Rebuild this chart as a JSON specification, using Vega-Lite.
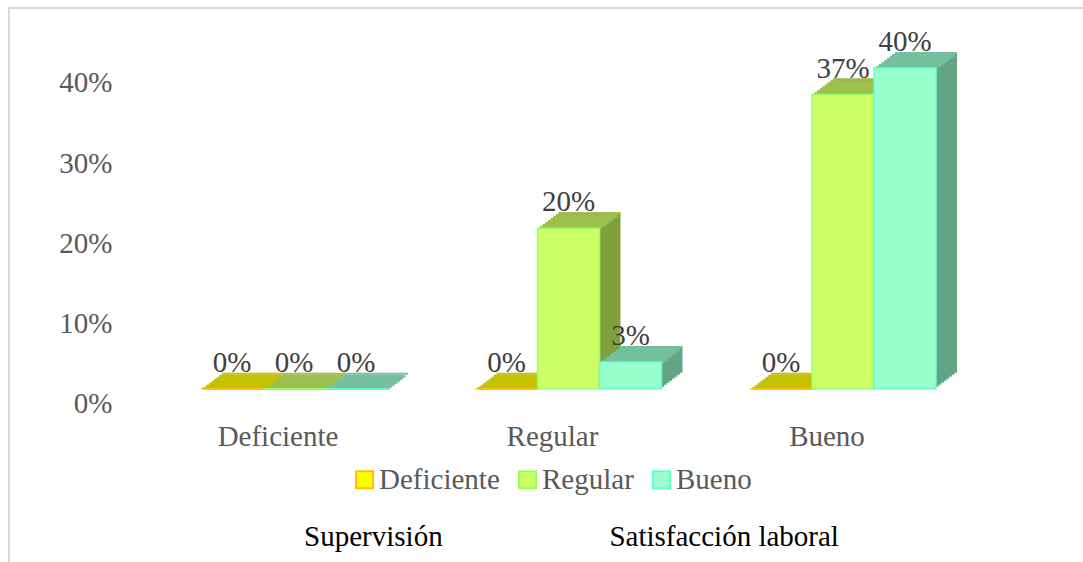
{
  "$schema": "https://vega.github.io/schema/vega-lite/v6.json",
  "width": 1078,
  "height": 558,
  "autosize": {"type": "none"},
  "padding": {"left": 9, "top": 8, "right": -4, "bottom": -4},
  "background": "white",
  "config": {
    "font": "Liberation Serif",
    "view": {"stroke": "#d9d9d9", "strokeWidth": 2}
  },
  "data": {
    "values": [
      {"group": "Deficiente", "series": "Deficiente", "value": 0},
      {"group": "Deficiente", "series": "Regular", "value": 0},
      {"group": "Deficiente", "series": "Bueno", "value": 0},
      {"group": "Regular", "series": "Deficiente", "value": 0},
      {"group": "Regular", "series": "Regular", "value": 0.2},
      {"group": "Regular", "series": "Bueno", "value": 0.0333},
      {"group": "Bueno", "series": "Deficiente", "value": 0},
      {"group": "Bueno", "series": "Regular", "value": 0.3667},
      {"group": "Bueno", "series": "Bueno", "value": 0.4}
    ]
  },
  "encoding": {
    "x": {
      "field": "group",
      "type": "nominal",
      "scale": {"type": "band", "domain": ["Deficiente", "Regular", "Bueno"], "range": [147.75, 971.25], "paddingInner": 0.3224, "paddingOuter": 0.1612},
      "axis": {
        "orient": "bottom",
        "offset": -130,
        "domain": false,
        "ticks": false,
        "tickSize": 0,
        "grid": false,
        "labelPadding": 0,
        "labelOffset": -16,
        "labelAngle": 0,
        "labelBaseline": "middle",
        "labelFontSize": 29,
        "labelColor": "#595959",
        "title": "Supervisión\u00a0\u00a0\u00a0\u00a0\u00a0\u00a0\u00a0\u00a0\u00a0\u00a0\u00a0\u00a0\u00a0\u00a0\u00a0\u00a0\u00a0\u00a0\u00a0\u00a0\u00a0\u00a0\u00a0Satisfacción laboral",
        "titleFontSize": 29,
        "titleFontWeight": "normal",
        "titleColor": "#000000",
        "titleX": 562,
        "titleY": 100,
        "titleBaseline": "middle",
        "titleAlign": "center"
      }
    },
    "y": {
      "field": "value",
      "type": "quantitative",
      "scale": {"domain": [-0.22107, 0.47469], "nice": false, "zero": false},
      "axis": {
        "orient": "left",
        "offset": -103,
        "values": [0, 0.1, 0.2, 0.3, 0.4],
        "format": ".0%",
        "domain": false,
        "ticks": false,
        "tickSize": 0,
        "grid": false,
        "labelPadding": 0,
        "labelOffset": 15,
        "labelFontSize": 29,
        "labelColor": "#595959",
        "title": null
      }
    }
  },
  "layer": [
    {"mark": {"type": "bar", "yOffset": -2, "y2Offset": -2}, "encoding": {"xOffset": {"field": "series", "type": "nominal", "scale": {"domain": ["Deficiente", "Regular", "Bueno"], "range": [2.625, 188.625]}}, "y2": {"datum": 0}, "fill": {"field": "series", "type": "nominal", "scale": {"domain": ["Deficiente", "Regular", "Bueno"], "range": ["#A3A300", "#80A03C", "#62A483"]}, "legend": null}}},
    {"mark": {"type": "bar", "yOffset": -4, "y2Offset": -4}, "encoding": {"xOffset": {"field": "series", "type": "nominal", "scale": {"domain": ["Deficiente", "Regular", "Bueno"], "range": [5.25, 191.25]}}, "y2": {"datum": 0}, "fill": {"field": "series", "type": "nominal", "scale": {"domain": ["Deficiente", "Regular", "Bueno"], "range": ["#A3A300", "#80A03C", "#62A483"]}, "legend": null}}},
    {"mark": {"type": "bar", "yOffset": -6, "y2Offset": -6}, "encoding": {"xOffset": {"field": "series", "type": "nominal", "scale": {"domain": ["Deficiente", "Regular", "Bueno"], "range": [7.875, 193.875]}}, "y2": {"datum": 0}, "fill": {"field": "series", "type": "nominal", "scale": {"domain": ["Deficiente", "Regular", "Bueno"], "range": ["#A3A300", "#80A03C", "#62A483"]}, "legend": null}}},
    {"mark": {"type": "bar", "yOffset": -8, "y2Offset": -8}, "encoding": {"xOffset": {"field": "series", "type": "nominal", "scale": {"domain": ["Deficiente", "Regular", "Bueno"], "range": [10.5, 196.5]}}, "y2": {"datum": 0}, "fill": {"field": "series", "type": "nominal", "scale": {"domain": ["Deficiente", "Regular", "Bueno"], "range": ["#A3A300", "#80A03C", "#62A483"]}, "legend": null}}},
    {"mark": {"type": "bar", "yOffset": -10, "y2Offset": -10}, "encoding": {"xOffset": {"field": "series", "type": "nominal", "scale": {"domain": ["Deficiente", "Regular", "Bueno"], "range": [13.125, 199.125]}}, "y2": {"datum": 0}, "fill": {"field": "series", "type": "nominal", "scale": {"domain": ["Deficiente", "Regular", "Bueno"], "range": ["#A3A300", "#80A03C", "#62A483"]}, "legend": null}}},
    {"mark": {"type": "bar", "yOffset": -12, "y2Offset": -12}, "encoding": {"xOffset": {"field": "series", "type": "nominal", "scale": {"domain": ["Deficiente", "Regular", "Bueno"], "range": [15.75, 201.75]}}, "y2": {"datum": 0}, "fill": {"field": "series", "type": "nominal", "scale": {"domain": ["Deficiente", "Regular", "Bueno"], "range": ["#A3A300", "#80A03C", "#62A483"]}, "legend": null}}},
    {"mark": {"type": "bar", "yOffset": -14, "y2Offset": -14}, "encoding": {"xOffset": {"field": "series", "type": "nominal", "scale": {"domain": ["Deficiente", "Regular", "Bueno"], "range": [18.375, 204.375]}}, "y2": {"datum": 0}, "fill": {"field": "series", "type": "nominal", "scale": {"domain": ["Deficiente", "Regular", "Bueno"], "range": ["#A3A300", "#80A03C", "#62A483"]}, "legend": null}}},
    {"mark": {"type": "bar", "yOffset": -16, "y2Offset": -16}, "encoding": {"xOffset": {"field": "series", "type": "nominal", "scale": {"domain": ["Deficiente", "Regular", "Bueno"], "range": [21, 207]}}, "y2": {"datum": 0}, "fill": {"field": "series", "type": "nominal", "scale": {"domain": ["Deficiente", "Regular", "Bueno"], "range": ["#A3A300", "#80A03C", "#62A483"]}, "legend": null}}},
    {"mark": {"type": "bar", "yOffset": -2, "y2Offset": 1}, "encoding": {"xOffset": {"field": "series", "type": "nominal", "scale": {"domain": ["Deficiente", "Regular", "Bueno"], "range": [2.625, 188.625]}}, "y2": {"field": "value"}, "fill": {"field": "series", "type": "nominal", "scale": {"domain": ["Deficiente", "Regular", "Bueno"], "range": ["#C4C100", "#9CBF4E", "#74C09C"]}, "legend": null}}},
    {"mark": {"type": "bar", "yOffset": -4, "y2Offset": -1}, "encoding": {"xOffset": {"field": "series", "type": "nominal", "scale": {"domain": ["Deficiente", "Regular", "Bueno"], "range": [5.25, 191.25]}}, "y2": {"field": "value"}, "fill": {"field": "series", "type": "nominal", "scale": {"domain": ["Deficiente", "Regular", "Bueno"], "range": ["#C4C100", "#9CBF4E", "#74C09C"]}, "legend": null}}},
    {"mark": {"type": "bar", "yOffset": -6, "y2Offset": -3}, "encoding": {"xOffset": {"field": "series", "type": "nominal", "scale": {"domain": ["Deficiente", "Regular", "Bueno"], "range": [7.875, 193.875]}}, "y2": {"field": "value"}, "fill": {"field": "series", "type": "nominal", "scale": {"domain": ["Deficiente", "Regular", "Bueno"], "range": ["#C4C100", "#9CBF4E", "#74C09C"]}, "legend": null}}},
    {"mark": {"type": "bar", "yOffset": -8, "y2Offset": -5}, "encoding": {"xOffset": {"field": "series", "type": "nominal", "scale": {"domain": ["Deficiente", "Regular", "Bueno"], "range": [10.5, 196.5]}}, "y2": {"field": "value"}, "fill": {"field": "series", "type": "nominal", "scale": {"domain": ["Deficiente", "Regular", "Bueno"], "range": ["#C4C100", "#9CBF4E", "#74C09C"]}, "legend": null}}},
    {"mark": {"type": "bar", "yOffset": -10, "y2Offset": -7}, "encoding": {"xOffset": {"field": "series", "type": "nominal", "scale": {"domain": ["Deficiente", "Regular", "Bueno"], "range": [13.125, 199.125]}}, "y2": {"field": "value"}, "fill": {"field": "series", "type": "nominal", "scale": {"domain": ["Deficiente", "Regular", "Bueno"], "range": ["#C4C100", "#9CBF4E", "#74C09C"]}, "legend": null}}},
    {"mark": {"type": "bar", "yOffset": -12, "y2Offset": -9}, "encoding": {"xOffset": {"field": "series", "type": "nominal", "scale": {"domain": ["Deficiente", "Regular", "Bueno"], "range": [15.75, 201.75]}}, "y2": {"field": "value"}, "fill": {"field": "series", "type": "nominal", "scale": {"domain": ["Deficiente", "Regular", "Bueno"], "range": ["#C4C100", "#9CBF4E", "#74C09C"]}, "legend": null}}},
    {"mark": {"type": "bar", "yOffset": -14, "y2Offset": -11}, "encoding": {"xOffset": {"field": "series", "type": "nominal", "scale": {"domain": ["Deficiente", "Regular", "Bueno"], "range": [18.375, 204.375]}}, "y2": {"field": "value"}, "fill": {"field": "series", "type": "nominal", "scale": {"domain": ["Deficiente", "Regular", "Bueno"], "range": ["#C4C100", "#9CBF4E", "#74C09C"]}, "legend": null}}},
    {"mark": {"type": "bar", "yOffset": -16, "y2Offset": -14}, "encoding": {"xOffset": {"field": "series", "type": "nominal", "scale": {"domain": ["Deficiente", "Regular", "Bueno"], "range": [21, 207]}}, "y2": {"field": "value"}, "fill": {"field": "series", "type": "nominal", "scale": {"domain": ["Deficiente", "Regular", "Bueno"], "range": ["#C4C100", "#9CBF4E", "#74C09C"]}, "legend": null}}},
    {
      "mark": {"type": "bar", "strokeWidth": 1.5},
      "encoding": {
        "xOffset": {"field": "series", "type": "nominal", "scale": {"domain": ["Deficiente", "Regular", "Bueno"]}},
        "y2": {"datum": 0},
        "fill": {
          "field": "series", "type": "nominal",
          "scale": {"domain": ["Deficiente", "Regular", "Bueno"], "range": ["#FFFF00", "#CCFF66", "#99FFCC"]},
          "legend": {"orient": "none", "legendX": 341, "legendY": 457, "direction": "horizontal", "title": null, "symbolType": "square", "symbolSize": 289, "symbolStrokeWidth": 2, "labelFontSize": 29, "labelColor": "#595959", "labelOffset": 0, "columnPadding": 13}
        },
        "stroke": {
          "field": "series", "type": "nominal",
          "scale": {"domain": ["Deficiente", "Regular", "Bueno"], "range": ["#FFC000", "#99FF66", "#66FFCC"]},
          "legend": {"orient": "none", "legendX": 341, "legendY": 457, "direction": "horizontal", "title": null, "symbolType": "square", "symbolSize": 289, "symbolStrokeWidth": 2, "labelFontSize": 29, "labelColor": "#595959", "labelOffset": 0, "columnPadding": 13}
        }
      }
    },
    {
      "mark": {"type": "text", "dy": -26, "fontSize": 29, "color": "#404040", "baseline": "middle", "align": "center"},
      "encoding": {
        "xOffset": {"field": "series", "type": "nominal", "scale": {"domain": ["Deficiente", "Regular", "Bueno"]}},
        "text": {"field": "value", "type": "quantitative", "format": ".0%"}
      }
    }
  ],
  "resolve": {"scale": {"xOffset": "independent", "fill": "independent", "stroke": "independent"}}
}
